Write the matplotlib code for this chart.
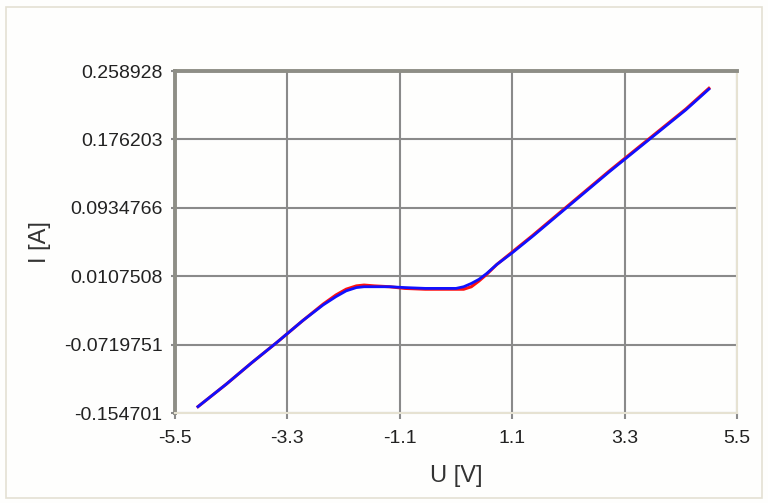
import numpy as np
import matplotlib.pyplot as plt
from matplotlib.patches import Rectangle

# U-I Kennlinie, zwei Messreihen (rot / blau)
u_rot = [-5.05, -4.5, -4.0, -3.5, -3.0, -2.6, -2.35, -2.15, -1.95, -1.8, -1.6, -1.3,
         -1.0, -0.6, -0.3, 0.0, 0.15, 0.3, 0.45, 0.6, 0.8, 1.1, 1.5, 2.0, 2.5, 3.0,
         3.5, 4.0, 4.5, 4.95]
i_rot = [-0.147, -0.120, -0.094, -0.069, -0.043, -0.023, -0.012, -0.005, -0.001, 0.000,
         -0.001, -0.002, -0.004, -0.005, -0.005, -0.005, -0.005, -0.002, 0.005, 0.013,
         0.025, 0.040, 0.060, 0.086, 0.112, 0.138, 0.163, 0.188, 0.213, 0.238]

u_blau = [-5.05, -4.5, -4.0, -3.5, -3.0, -2.6, -2.35, -2.15, -1.95, -1.8, -1.6, -1.3,
          -1.0, -0.6, -0.3, 0.0, 0.15, 0.3, 0.45, 0.6, 0.8, 1.1, 1.5, 2.0, 2.5, 3.0,
          3.5, 4.0, 4.5, 4.95]
i_blau = [-0.147, -0.120, -0.094, -0.069, -0.043, -0.024, -0.014, -0.007, -0.003, -0.002,
          -0.002, -0.002, -0.003, -0.004, -0.004, -0.004, -0.002, 0.002, 0.007, 0.014,
          0.025, 0.039, 0.059, 0.085, 0.111, 0.137, 0.162, 0.187, 0.212, 0.237]

x_ticks = [-5.5, -3.3, -1.1, 1.1, 3.3, 5.5]
y_ticks = [-0.154701, -0.0719751, 0.0107508, 0.0934766, 0.176203, 0.258928]
y_labels = ['-0.154701', '-0.0719751', '0.0107508', '0.0934766', '0.176203', '0.258928']

plt.rcParams['font.family'] = ['Liberation Sans', 'DejaVu Sans']

fig = plt.figure(figsize=(7.68, 5.03), dpi=100)
fig.patch.set_facecolor('#fefefd')

# duenner Rahmen um das ganze Diagramm
fig.patches.append(Rectangle((6 / 768, 5 / 503), 756 / 768, 491 / 503,
                             transform=fig.transFigure, fill=False,
                             edgecolor='#e4e1d3', linewidth=1.2))

ax = fig.add_axes([175 / 768, 1 - 413 / 503, 562 / 768, 342 / 503])
ax.set_facecolor('#fefefd')

ax.plot(u_rot, i_rot, color='#ff1010', linewidth=2.2, zorder=3)
ax.plot(u_blau, i_blau, color='#1010ff', linewidth=2.0, zorder=4)

ax.set_xlim(-5.5, 5.5)
ax.set_ylim(-0.154701, 0.258928)
ax.set_xticks(x_ticks)
ax.set_xticklabels([str(v) for v in x_ticks])
ax.set_yticks(y_ticks)
ax.set_yticklabels(y_labels)

ax.grid(True, color='#8a8a8a', linewidth=1.5, zorder=1)
ax.tick_params(direction='out', width=1.5, color='#8a8a8a',
               labelsize=14, labelcolor='#222222')
ax.tick_params(axis='x', length=4, pad=8)
ax.tick_params(axis='y', length=3, pad=6)

for s in ['top', 'left']:
    ax.spines[s].set_color('#8e8e86')
    ax.spines[s].set_linewidth(2.8)
for s in ['bottom', 'right']:
    ax.spines[s].set_color('#e6e2d2')
    ax.spines[s].set_linewidth(1.5)

ax.set_xlabel('U [V]', fontsize=17, color='#333333', va='center')
ax.set_ylabel('I [A]', fontsize=17, color='#333333', va='center')
ax.xaxis.set_label_coords(0.5, (413 - 476) / 342)
ax.yaxis.set_label_coords((40 - 175) / 562, 0.5)

plt.savefig('out.png', dpi=100, facecolor=fig.get_facecolor())
